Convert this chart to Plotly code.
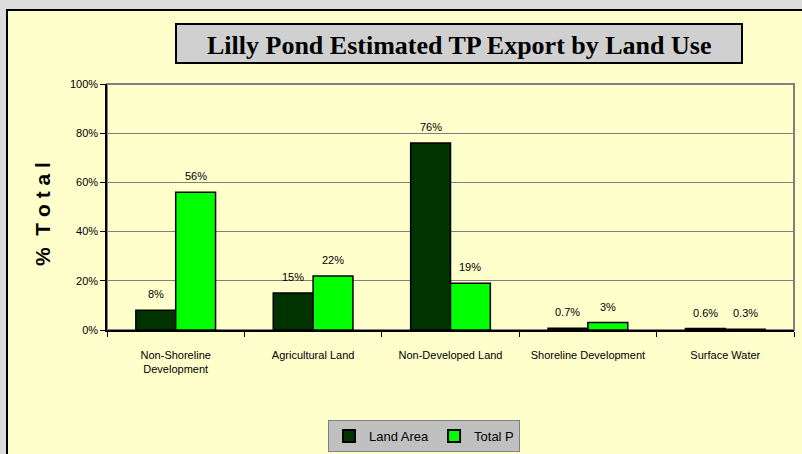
import plotly.graph_objects as go

categories = ["Non-Shoreline<br>Development", "Agricultural Land", "Non-Developed Land",
              "Shoreline Development", "Surface Water"]
land_area = [8, 15, 76, 0.7, 0.6]
total_p = [56, 22, 19, 3, 0.3]
land_labels = ["8%", "15%", "76%", "0.7%", "0.6%"]
totalp_labels = ["56%", "22%", "19%", "3%", "0.3%"]
y_ticks = [0, 20, 40, 60, 80, 100]
y_tick_text = ["0%", "20%", "40%", "60%", "80%", "100%"]

W, H = 802, 454
ML, MR, MT, MB = 107, 8, 84, 124
PW, PH = W - ML - MR, H - MT - MB
BARGAP = 0.42
BAR_PX = PW / len(categories) * (1 - BARGAP) / 2

def px(x):
    return (x - ML) / PW

def py(y):
    return (H - MB - y) / PH

fig = go.Figure()
fig.add_trace(go.Bar(
    x=categories, y=land_area, name="Land Area",
    marker=dict(color="#003300", line=dict(color="#000000", width=1.5)),
))
fig.add_trace(go.Bar(
    x=categories, y=total_p, name="Total P",
    marker=dict(color="#00ff00", line=dict(color="#000000", width=1.5)),
))

shapes = [
    dict(type="rect", xref="paper", yref="paper", x0=px(7), x1=px(812), y0=py(480), y1=py(10),
         fillcolor="#ffffcc", line=dict(color="#000000", width=2), layer="below"),
    dict(type="rect", xref="paper", yref="paper", x0=0, x1=1, y0=0, y1=1,
         line=dict(color="#808080", width=2), layer="below"),
    dict(type="rect", xref="paper", yref="paper", x0=px(176), x1=px(742), y0=py(63), y1=py(24),
         fillcolor="#d0d0d0", line=dict(color="#000000", width=2)),
]

annotations = [
    dict(text="<b>Lilly Pond Estimated TP Export by Land Use</b>", xref="paper", yref="paper",
         x=px(459), y=py(45), xanchor="center", yanchor="middle", showarrow=False,
         font=dict(family="Times New Roman, Liberation Serif", size=26, color="#000000")),
    dict(text="<b>%  T o t a l</b>", xref="paper", yref="paper", x=px(42), y=py(214),
         xanchor="center", yanchor="middle", textangle=-90, showarrow=False,
         font=dict(family="Arial, Liberation Sans", size=21, color="#000000")),
]

label_font = dict(family="Arial, Liberation Sans", size=11, color="#000000")
for cat, val, lab in zip(categories, land_area, land_labels):
    annotations.append(dict(text=lab, x=cat, y=val, xref="x", yref="y", showarrow=False,
                            xshift=-BAR_PX / 2, yshift=16, xanchor="center", yanchor="middle",
                            font=label_font))
for cat, val, lab in zip(categories, total_p, totalp_labels):
    annotations.append(dict(text=lab, x=cat, y=val, xref="x", yref="y", showarrow=False,
                            xshift=BAR_PX / 2, yshift=16, xanchor="center", yanchor="middle",
                            font=label_font))

fig.update_layout(
    width=W, height=H,
    margin=dict(l=ML, r=MR, t=MT, b=MB, autoexpand=False),
    paper_bgcolor="#dcdcdc", plot_bgcolor="#c0c0c0",
    barmode="group", bargap=BARGAP, bargroupgap=0,
    shapes=shapes, annotations=annotations,
    font=dict(family="Arial, Liberation Sans", size=11, color="#000000"),
    showlegend=True,
    legend=dict(orientation="h", x=px(424), xanchor="center", y=py(420), yanchor="top",
                bgcolor="#c0c0c0", bordercolor="#808080", borderwidth=1,
                font=dict(family="Arial, Liberation Sans", size=13, color="#000000"),
                itemwidth=30, itemsizing="constant", traceorder="normal",
                tracegroupgap=0),
)
fig.update_xaxes(showline=True, linecolor="#000000", linewidth=1.5, ticks="outside",
                 tickson="boundaries", ticklen=5, tickcolor="#000000",
                 ticklabelstandoff=14, showgrid=False, automargin=False,
                 tickfont=dict(family="Arial, Liberation Sans", size=11, color="#000000"))
fig.update_yaxes(range=[0, 100], tickvals=y_ticks, ticktext=y_tick_text, showline=True,
                 linecolor="#000000", linewidth=1.5, ticks="outside", ticklen=5,
                 tickcolor="#000000", gridcolor="#808080", gridwidth=1, zeroline=False,
                 automargin=False,
                 tickfont=dict(family="Arial, Liberation Sans", size=11, color="#000000"))

fig.write_html("out.html", config={"displayModeBar": False},
               post_script="document.body.style.margin='0';document.body.style.overflow='hidden';")
